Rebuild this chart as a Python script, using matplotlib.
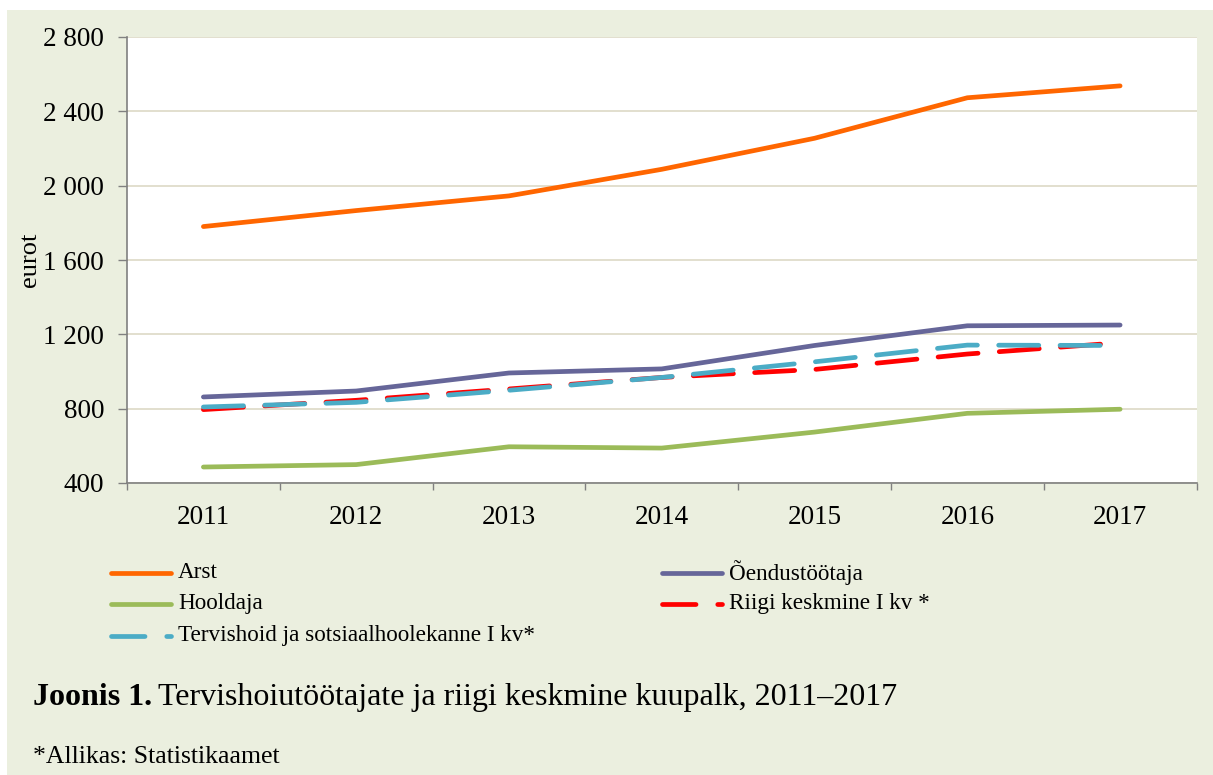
import matplotlib
matplotlib.use("Agg")
import matplotlib.pyplot as plt
from matplotlib.lines import Line2D
from matplotlib.patches import Rectangle
from matplotlib.ticker import FixedLocator, FuncFormatter, NullFormatter

years = [2011, 2012, 2013, 2014, 2015, 2016, 2017]
arst = [1780, 1866, 1945, 2088, 2255, 2473, 2537]
oendustootaja = [863, 895, 992, 1014, 1140, 1246, 1250]
hooldaja = [486, 499, 595, 588, 674, 775, 797]
riigi_keskmine = [795, 845, 906, 968, 1011, 1094, 1155]
tervishoid = [809, 834, 899, 968, 1052, 1142, 1140]

labels = ["Arst", "Õendustöötaja", "Hooldaja", "Riigi keskmine I kv *",
          "Tervishoid ja sotsiaalhoolekanne I kv*"]
colors = ["#FF6600", "#666699", "#9BBB59", "#FF0000", "#4BACC6"]

W, H = 1213, 775
BG = "#EBEFDF"
FONT = "Liberation Serif"
plt.rcParams["font.family"] = [FONT, "DejaVu Serif"]

fig = plt.figure(figsize=(W / 100, H / 100), dpi=100)
fig.patch.set_facecolor("white")
fig.add_artist(Rectangle((7 / W, 0), 1, 1 - 10 / H, transform=fig.transFigure,
                         facecolor=BG, edgecolor="none", zorder=0))

def fx(px):
    return px / W

def fy(py):
    return 1 - py / H

ax = fig.add_axes([fx(127), fy(483), fx(1196.5) - fx(127), fy(37) - fy(483)])
ax.set_facecolor("white")

lw = 3.4
dash = (8.5, 4.5)
legend_dash = (7.1, 4.6)
series = [arst, oendustootaja, hooldaja, riigi_keskmine, tervishoid]
styles = ["solid", "solid", "solid", "dash", "dash"]
for vals, col, st, lab in zip(series, colors, styles, labels):
    if st == "dash":
        ax.plot(years, vals, color=col, lw=lw, dashes=dash,
                dash_capstyle="round", label=lab, zorder=3)
    else:
        ax.plot(years, vals, color=col, lw=lw, solid_capstyle="round",
                solid_joinstyle="round", label=lab, zorder=3)

ax.set_xlim(2010.5, 2017.5)
ax.set_ylim(400, 2800)
ax.yaxis.set_major_locator(FixedLocator(range(400, 2801, 400)))
ax.yaxis.set_major_formatter(FuncFormatter(lambda v, p: f"{v:,.0f}".replace(",", " ")))
ax.grid(axis="y", color="#DDD9C6", lw=1.2, zorder=1)
ax.set_axisbelow(True)

ax.xaxis.set_major_locator(FixedLocator([y - 0.5 for y in years] + [2017.5]))
ax.xaxis.set_major_formatter(NullFormatter())
ax.xaxis.set_minor_locator(FixedLocator(years))
ax.set_xticklabels([str(y) for y in years], minor=True)
ax.tick_params(axis="x", which="major", length=5, width=1, color="#808080", direction="out")
ax.tick_params(axis="x", which="minor", length=0, pad=16, labelsize=19.5)
ax.tick_params(axis="y", length=6.5, width=1, color="#808080", direction="out",
               pad=10, labelsize=19.5)

for side in ["top", "right"]:
    ax.spines[side].set_visible(False)
for side in ["left", "bottom"]:
    ax.spines[side].set_color("#808080")
    ax.spines[side].set_linewidth(1.2)

fig.text(fx(30), fy(260), "eurot", rotation=90, ha="center", va="center", fontsize=19)

# legend drawn by hand, two columns
legend_pos = [(111, 573), (662, 573), (111, 604), (662, 604), (111, 636)]
for (x0, y0), col, st, lab in zip(legend_pos, colors, styles, labels):
    kw = dict(color=col, lw=lw, transform=fig.transFigure)
    if st == "dash":
        kw.update(dashes=legend_dash, dash_capstyle="round")
    else:
        kw.update(solid_capstyle="round")
    fig.add_artist(Line2D([fx(x0), fx(x0 + 60)], [fy(y0), fy(y0)], **kw))
    fig.text(fx(x0 + 67), fy(y0), lab, ha="left", va="center", fontsize=16.7)

t1 = fig.text(fx(33), fy(705), "Joonis 1.", ha="left", va="baseline",
              fontsize=23, fontweight="bold")
fig.canvas.draw()
bb = t1.get_window_extent()
fig.text(bb.x1 / W + fx(6), fy(705), "Tervishoiutöötajate ja riigi keskmine kuupalk, 2011–2017",
         ha="left", va="baseline", fontsize=23)

fig.text(fx(33), fy(763), "*Allikas: Statistikaamet", ha="left", va="baseline", fontsize=18.5)

fig.savefig("out.png", dpi=100, facecolor=fig.get_facecolor())
